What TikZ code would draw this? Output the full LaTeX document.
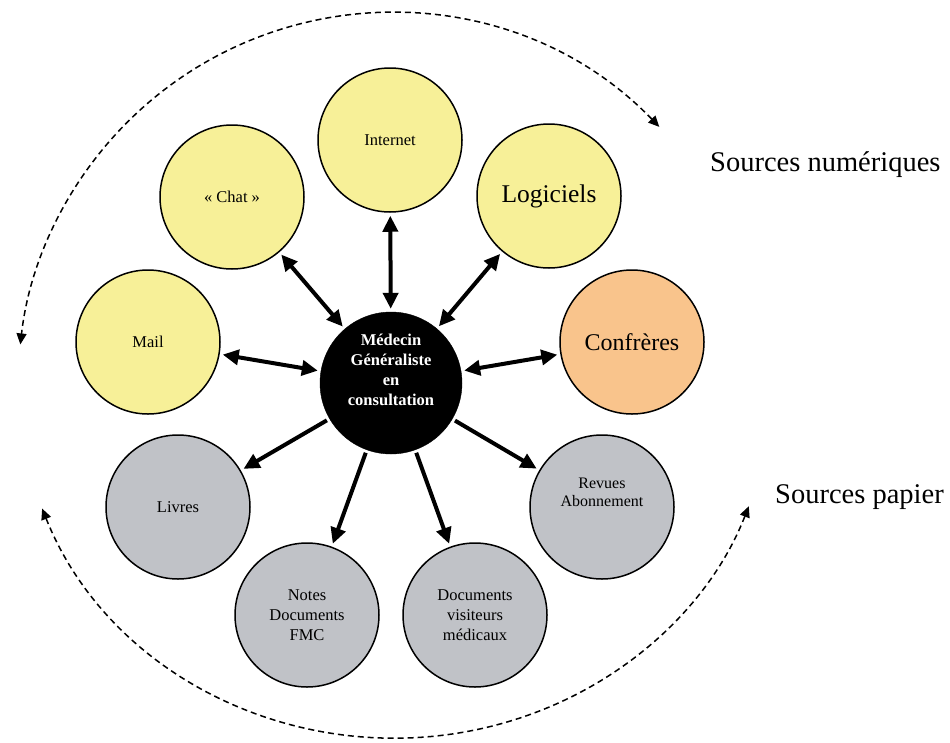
\documentclass[tikz,border=0pt]{standalone}
\usepackage{fontspec}
\setmainfont{Liberation Serif}
\usetikzlibrary{arrows.meta,calc}
\definecolor{ylw}{RGB}{247,240,152}
\definecolor{org}{RGB}{249,196,140}
\definecolor{gry}{RGB}{192,194,199}
\begin{document}
\begin{tikzpicture}[x=1pt,y=-1pt,
  bubble/.style={circle,draw=black,line width=1.5pt,minimum size=144pt,inner sep=0pt,align=center,text=black,font=\fontsize{16.5}{20}\selectfont},
  yb/.style={bubble,fill=ylw},
  ob/.style={bubble,fill=org},
  gb/.style={bubble,fill=gry},
  hub/.style={circle,fill=black,draw=black,minimum size=142pt,inner sep=0pt,align=center,text=white,font=\fontsize{16.5}{20}\selectfont\bfseries},
  link/.style={line width=4pt,shorten <=3pt,shorten >=3pt},
  twoway/.style={link,{Triangle[length=16pt,width=15pt]}-{Triangle[length=16pt,width=15pt]}},
  oneway/.style={link,-{Triangle[length=16pt,width=15pt]}},
  cycle/.style={line width=1.5pt,dash pattern=on 6pt off 4pt,{Triangle[length=11pt,width=10pt]}-{Triangle[length=11pt,width=10pt]}},
  side/.style={font=\fontsize{28.5}{32}\selectfont,text=black,anchor=west,inner sep=0pt}]
\useasboundingbox (0,0) rectangle (950,742);
\node[hub] (ctr) at (391,383) {Médecin\\Généraliste\\en\\consultation\\[6pt]};
\node[yb] (internet) at (390,140) {Internet};
\node[yb] (chat) at (232,197) {« Chat »};
\node[yb,font=\fontsize{25.5}{28}\selectfont] (logiciels) at (549,196) {Logiciels};
\node[yb] (mail) at (148,342) {Mail};
\node[ob,font=\fontsize{24}{28}\selectfont] (confreres) at (632,342) {Confrères};
\node[gb] (livres) at (178,507) {Livres};
\node[gb,font=\fontsize{16}{18}\selectfont] (revues) at (602,507) {Revues\\Abonnement\\[12pt]};
\node[gb] (notes) at (307,615) {Notes\\Documents\\FMC};
\node[gb] (docs) at (475,615) {Documents\\visiteurs\\médicaux};
\draw[twoway] (ctr) -- (internet);
\draw[twoway] (ctr) -- (chat);
\draw[twoway] (ctr) -- (logiciels);
\draw[twoway] (ctr) -- (mail);
\draw[twoway] (ctr) -- (confreres);
\draw[oneway] (ctr) -- (livres);
\draw[oneway] (ctr) -- (revues);
\draw[oneway] (ctr) -- (notes);
\draw[oneway] (ctr) -- (docs);
\coordinate (O1) at (391,386);
\coordinate (O2) at (395,384);
\draw[cycle] ($(O1)+(-44:373)$) arc[start angle=-44,end angle=-173.6,radius=373];
\draw[cycle] ($(O2)+(159.4:377 and 354)$) arc[start angle=159.4,end angle=20.2,x radius=377,y radius=354];
\node[side] (num) at (710,165) {Sources numériques};
\node[side] (pap) at (775,497) {Sources papier};
\end{tikzpicture}
\end{document}
